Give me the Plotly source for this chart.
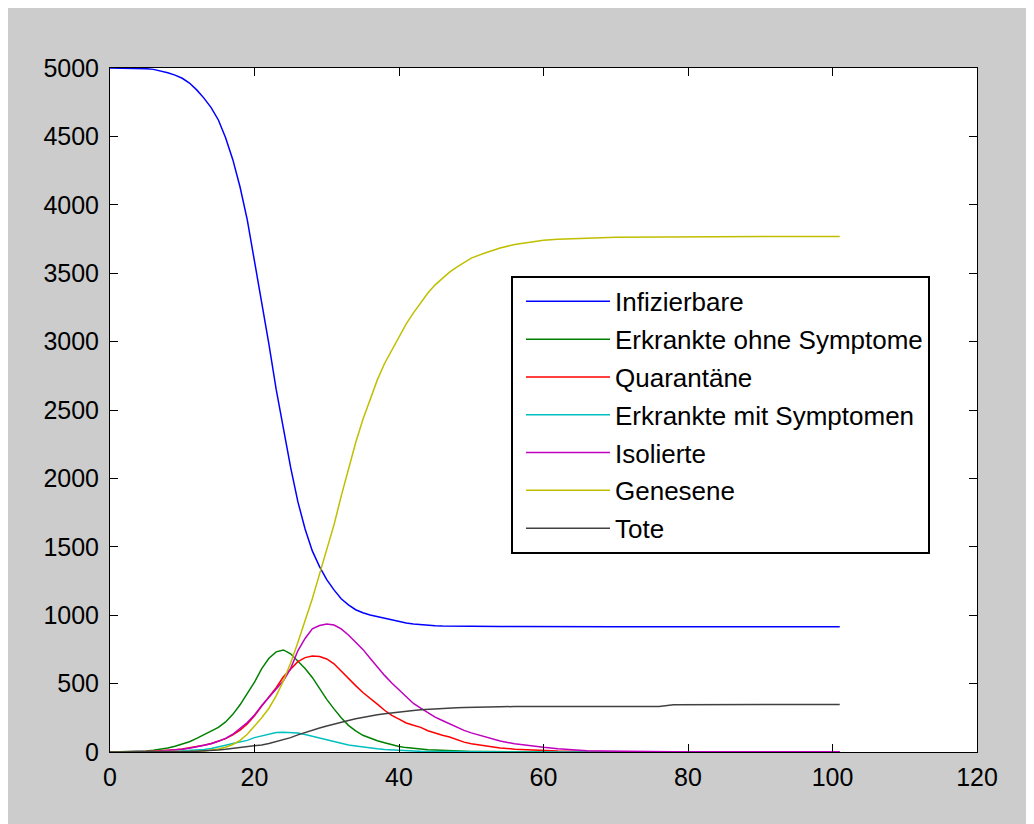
import plotly.graph_objects as go

# time points (days)
t = list(range(0, 51)) + list(range(52, 101, 2)) + [101]

infizierbare = [5000, 5000, 5000, 4999, 4998, 4995, 4990, 4980, 4965, 4948,
                4925, 4890, 4840, 4780, 4710, 4620, 4490, 4330, 4130, 3890,
                3590, 3300, 2980, 2650, 2350, 2080, 1830, 1630, 1470, 1355,
                1260, 1185, 1120, 1075, 1040, 1018, 1002, 990, 976, 963,
                952, 943, 936, 930, 926, 923, 921, 920, 919, 918, 918,
                917, 917, 917, 916, 916, 916, 916, 916, 916, 915, 915, 915, 915,
                915, 915, 915, 915, 915, 915, 915, 915, 915, 915, 915, 915,
                915]
ohne_symptome = [0, 1, 2, 3, 5, 8, 13, 20, 30, 42,
                 58, 75, 100, 125, 150, 180, 220, 275, 345, 425,
                 510, 610, 685, 732, 746, 718, 665, 610, 545, 460,
                 385, 315, 250, 195, 155, 122, 100, 82, 68, 52,
                 40, 32, 26, 21, 17, 14, 11, 9, 7, 5, 4,
                 3, 2, 1, 1, 0, 0, 0, 0, 0, 0, 0, 0, 0,
                 0, 0, 0, 0, 0, 0, 0, 0, 0, 0, 0, 0,
                 0]
quarantaene = [0, 0, 1, 2, 3, 4, 6, 8, 12, 16,
               22, 30, 40, 50, 62, 78, 98, 125, 160, 205,
               265, 335, 400, 470, 550, 605, 660, 690, 702, 698,
               680, 645, 590, 540, 485, 435, 395, 350, 305, 268,
               240, 212, 195, 180, 155, 138, 122, 110, 90, 72, 60,
               45, 30, 21, 15, 10, 7, 5, 3, 2, 1, 0, 0, 0,
               0, 0, 0, 0, 0, 0, 0, 0, 0, 0, 0, 0,
               0]
mit_symptomen = [0, 0, 0, 1, 1, 2, 2, 3, 4, 6,
                 8, 11, 14, 18, 25, 35, 50, 62, 72, 85,
                 105, 118, 133, 142, 145, 143, 138, 128, 115, 100,
                 88, 74, 62, 52, 44, 36, 29, 23, 18, 14,
                 11, 9, 7, 5, 4, 3, 3, 2, 2, 1, 1,
                 1, 0, 0, 0, 0, 0, 0, 0, 0, 0, 0, 0, 0,
                 0, 0, 0, 0, 0, 0, 0, 0, 0, 0, 0, 0,
                 0]
isolierte = [0, 0, 1, 1, 2, 3, 5, 7, 10, 14,
             20, 28, 38, 48, 60, 78, 100, 130, 170, 215,
             270, 340, 400, 460, 520, 610, 740, 830, 900, 925,
             936, 928, 900, 855, 805, 750, 685, 620, 560, 505,
             455, 400, 355, 320, 285, 255, 230, 205, 180, 158, 140,
             108, 80, 60, 46, 34, 24, 16, 10, 7, 5, 4, 3, 2,
             2, 1, 1, 1, 1, 1, 1, 1, 1, 1, 1, 1,
             1]
genesene = [0, 0, 0, 0, 0, 1, 1, 2, 2, 3,
            3, 4, 5, 8, 14, 22, 35, 55, 85, 130,
            190, 250, 320, 410, 520, 650, 800, 960, 1120, 1300,
            1480, 1660, 1870, 2070, 2260, 2430, 2580, 2720, 2840, 2940,
            3040, 3130, 3210, 3285, 3355, 3415, 3465, 3508, 3545, 3580, 3610,
            3650, 3684, 3710, 3727, 3740, 3748, 3753, 3757, 3760, 3762, 3763, 3764, 3765,
            3766, 3766, 3767, 3767, 3767, 3768, 3768, 3768, 3768, 3768, 3768, 3768,
            3768]
tote = [0, 0, 0, 0, 0, 0, 1, 1, 2, 2,
        3, 4, 6, 8, 11, 15, 20, 26, 32, 38,
        44, 52, 62, 75, 88, 105, 125, 143, 160, 175,
        190, 205, 218, 231, 243, 254, 263, 272, 280, 287,
        293, 298, 303, 308, 312, 315, 318, 321, 324, 326, 328,
        330, 331, 332, 332, 333, 333, 333, 333, 333, 333, 333, 333, 333,
        346, 347, 347, 347, 348, 348, 348, 348, 348, 348, 348, 348,
        348]

names = ["Infizierbare", "Erkrankte ohne Symptome", "Quarantäne",
         "Erkrankte mit Symptomen", "Isolierte", "Genesene", "Tote"]
series = [infizierbare, ohne_symptome, quarantaene, mit_symptomen, isolierte, genesene, tote]
colors = ["#0000FF", "#008000", "#FF0000", "#00BFBF", "#BF00BF", "#BFBF00", "#404040"]

fig = go.Figure()
for i, (n, s, c) in enumerate(zip(names, series, colors)):
    fig.add_trace(go.Scatter(x=t, y=s, name=n, mode="lines",
                             line=dict(color=c, width=1.5),
                             legendgroup=f"g{i}"))

tick_font = dict(family="Liberation Sans, Arial, sans-serif", size=25, color="black")
axis_common = dict(showline=True, linecolor="black", linewidth=1, mirror="ticks",
                   ticks="inside", ticklen=8, tickcolor="black", tickwidth=1,
                   showgrid=False, zeroline=False, tickfont=tick_font)

fig.update_xaxes(range=[0, 120], tickvals=[0, 20, 40, 60, 80, 100, 120],
                 ticklabelstandoff=3, **axis_common)
fig.update_yaxes(range=[0, 5000], tickvals=list(range(0, 5001, 500)),
                 ticklabelstandoff=5, **axis_common)

fig.update_layout(
    width=1026, height=816,
    paper_bgcolor="#CCCCCC", plot_bgcolor="white",
    margin=dict(l=102, r=57, t=60, b=72),
    showlegend=True,
    legend=dict(x=0.4625, y=0.696, xanchor="left", yanchor="top",
                bgcolor="white", bordercolor="black", borderwidth=2,
                font=dict(family="Liberation Sans, Arial, sans-serif", size=26, color="black"),
                traceorder="grouped", tracegroupgap=1, itemwidth=84, indentation=8),
)

fig.write_html("out.html")
